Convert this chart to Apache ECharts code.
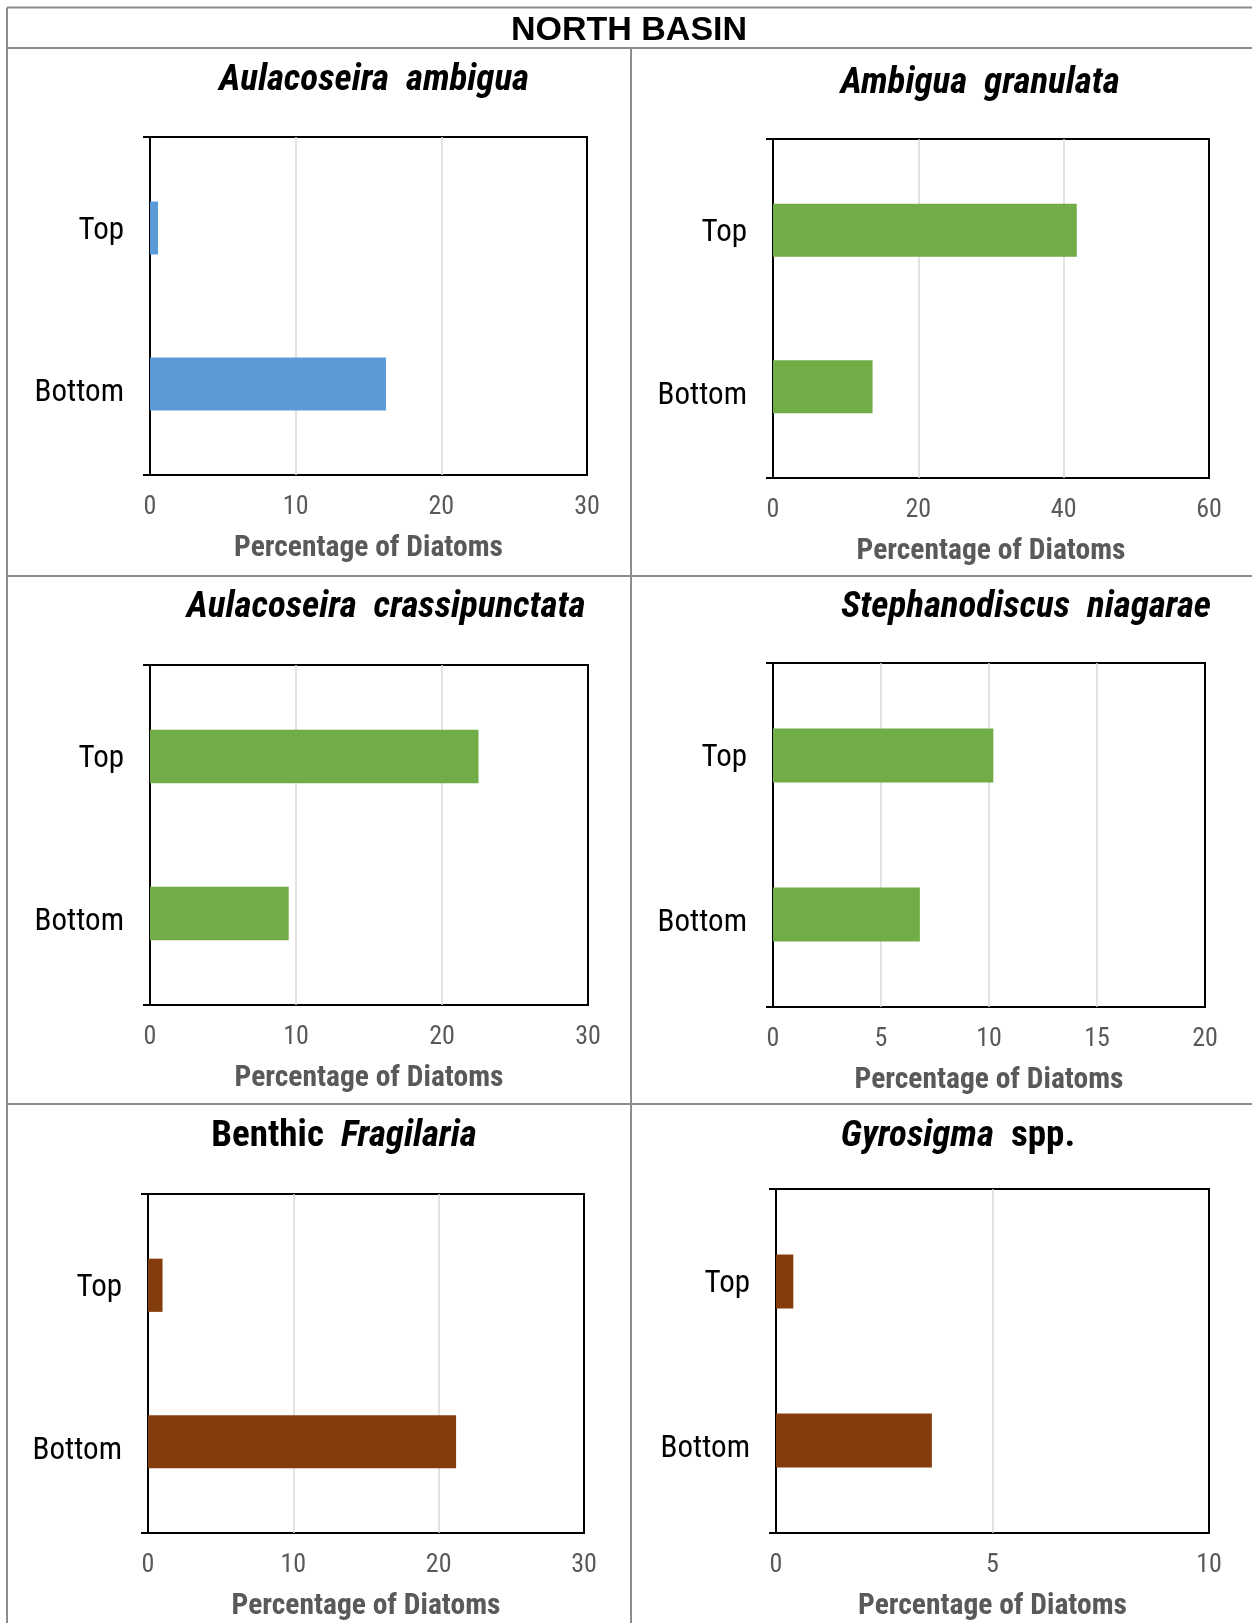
<!DOCTYPE html>
<html>
<head>
<meta charset="utf-8">
<script src="https://cdn.jsdelivr.net/npm/echarts@6/dist/echarts.min.js"></script>
<style>
html,body{margin:0;padding:0;background:#fff;}
#chart{width:1252px;height:1623px;}
</style>
</head>
<body>
<div id="chart"></div>
<script>
// ---- data ----
const headerTitle = 'NORTH BASIN';
const panelTitles = [
  '{i|Aulacoseira}  {i|ambigua}',
  '{i|Ambigua}  {i|granulata}',
  '{i|Aulacoseira}  {i|crassipunctata}',
  '{i|Stephanodiscus}  {i|niagarae}',
  '{b|Benthic}  {i|Fragilaria}',
  '{i|Gyrosigma}  {b|spp.}'
];
const categories = ['Bottom', 'Top'];
const topValues = [0.55, 41.8, 22.5, 10.2, 1.0, 0.4];
const bottomValues = [16.2, 13.7, 9.5, 6.8, 21.2, 3.6];
const axisMax = [30, 60, 30, 20, 30, 10];
const axisInterval = [10, 20, 10, 5, 10, 5];
const xAxisName = 'Percentage of Diatoms';
const barColors = ['#5B9BD5', '#70AD47', '#70AD47', '#70AD47', '#843C0C', '#843C0C'];

// ---- layout ----
const plotRects = [
  [150, 137, 437, 338],
  [773, 139, 436, 339],
  [150, 665, 438, 340],
  [773, 663, 432, 344],
  [148, 1194, 436, 339],
  [776, 1189, 433, 344]
];
const titlePos = [[374, 81], [980, 84], [386, 608], [1026, 608], [344, 1137], [958, 1137]];
const bandInset = 13;
const NARROW = '"Roboto Condensed", "Liberation Sans", sans-serif';
const TITLE_SIZE = 37;

const chart = echarts.init(document.getElementById('chart'), null, {renderer: 'canvas'});

const grid = [], xAxis = [], yAxis = [], series = [], graphic = [];

plotRects.forEach((r, i) => {
  const [l, t, w, h] = r;
  grid.push({left: l, top: t, width: w, height: h, show: true, borderColor: '#000', borderWidth: 2, backgroundColor: 'transparent'});
  grid.push({left: l, top: t + bandInset, width: w, height: h - 2 * bandInset});
  const gOuter = 2 * i, gInner = 2 * i + 1;
  xAxis.push({
    gridIndex: gOuter, type: 'value', min: 0, max: axisMax[i], interval: axisInterval[i],
    axisLine: {show: false}, axisTick: {show: false},
    splitLine: {show: true, showMinLine: false, showMaxLine: false, lineStyle: {color: '#d9d9d9', width: 1.5}},
    axisLabel: {fontFamily: NARROW, fontSize: 26, color: '#595959', margin: 19},
    name: xAxisName, nameLocation: 'middle', nameGap: 59,
    nameTextStyle: {fontFamily: NARROW, fontSize: 29.5, fontWeight: 'bold', color: '#595959'}
  });
  xAxis.push({gridIndex: gInner, type: 'value', min: 0, max: axisMax[i], show: false});
  yAxis.push({
    gridIndex: gOuter, type: 'value', min: 0, max: 1, interval: 1,
    axisLine: {show: true, lineStyle: {color: '#000', width: 2}},
    axisTick: {show: true, length: 7, lineStyle: {color: '#000', width: 2}},
    axisLabel: {show: false}, splitLine: {show: false}
  });
  yAxis.push({
    gridIndex: gInner, type: 'category', data: categories,
    axisLine: {show: false}, axisTick: {show: false},
    axisLabel: {
      fontFamily: NARROW, fontSize: 31, color: '#000', margin: 26,
      formatter: v => (v === 'Top' ? '{t|' + v + '}' : '{b|' + v + '}'),
      rich: {
        t: {fontFamily: NARROW, fontSize: 31, color: '#000', padding: [6, 0, 0, 0]},
        b: {fontFamily: NARROW, fontSize: 31, color: '#000', padding: [18, 0, 0, 0]}
      }
    }
  });
  series.push({
    type: 'bar', xAxisIndex: 2 * i + 1, yAxisIndex: 2 * i + 1,
    data: [bottomValues[i], topValues[i]], barWidth: '34%',
    itemStyle: {color: barColors[i]}, silent: true
  });
  graphic.push({
    type: 'text', x: titlePos[i][0], y: titlePos[i][1],
    style: {
      text: panelTitles[i], align: 'center', verticalAlign: 'middle',
      font: 'bold ' + TITLE_SIZE + 'px ' + NARROW, fill: '#000',
      rich: {
        i: {fontFamily: NARROW, fontSize: TITLE_SIZE, fontWeight: 'bold', fontStyle: 'italic', fill: '#000', color: '#000'},
        b: {fontFamily: NARROW, fontSize: TITLE_SIZE, fontWeight: 'bold', fill: '#000', color: '#000'}
      }
    }
  });
});

const lineColor = '#8c8c8c';
const tableLines = [
  [7, 7.5, 1252, 7.5], [7, 7.5, 7, 1623], [7, 48, 1252, 48],
  [631, 48, 631, 1623], [7, 576, 1252, 576], [7, 1104, 1252, 1104]
];
tableLines.forEach(s => graphic.push({
  type: 'line', shape: {x1: s[0], y1: s[1], x2: s[2], y2: s[3]},
  style: {stroke: lineColor, lineWidth: 2}, silent: true
}));
graphic.push({
  type: 'text', x: 629, y: 31,
  style: {text: headerTitle, align: 'center', verticalAlign: 'middle',
    font: 'bold 34px "Liberation Sans", Arial, sans-serif', fill: '#000'}
});

chart.setOption({
  animation: false,
  backgroundColor: '#fff',
  grid, xAxis, yAxis, series, graphic
});
</script>
</body>
</html>
